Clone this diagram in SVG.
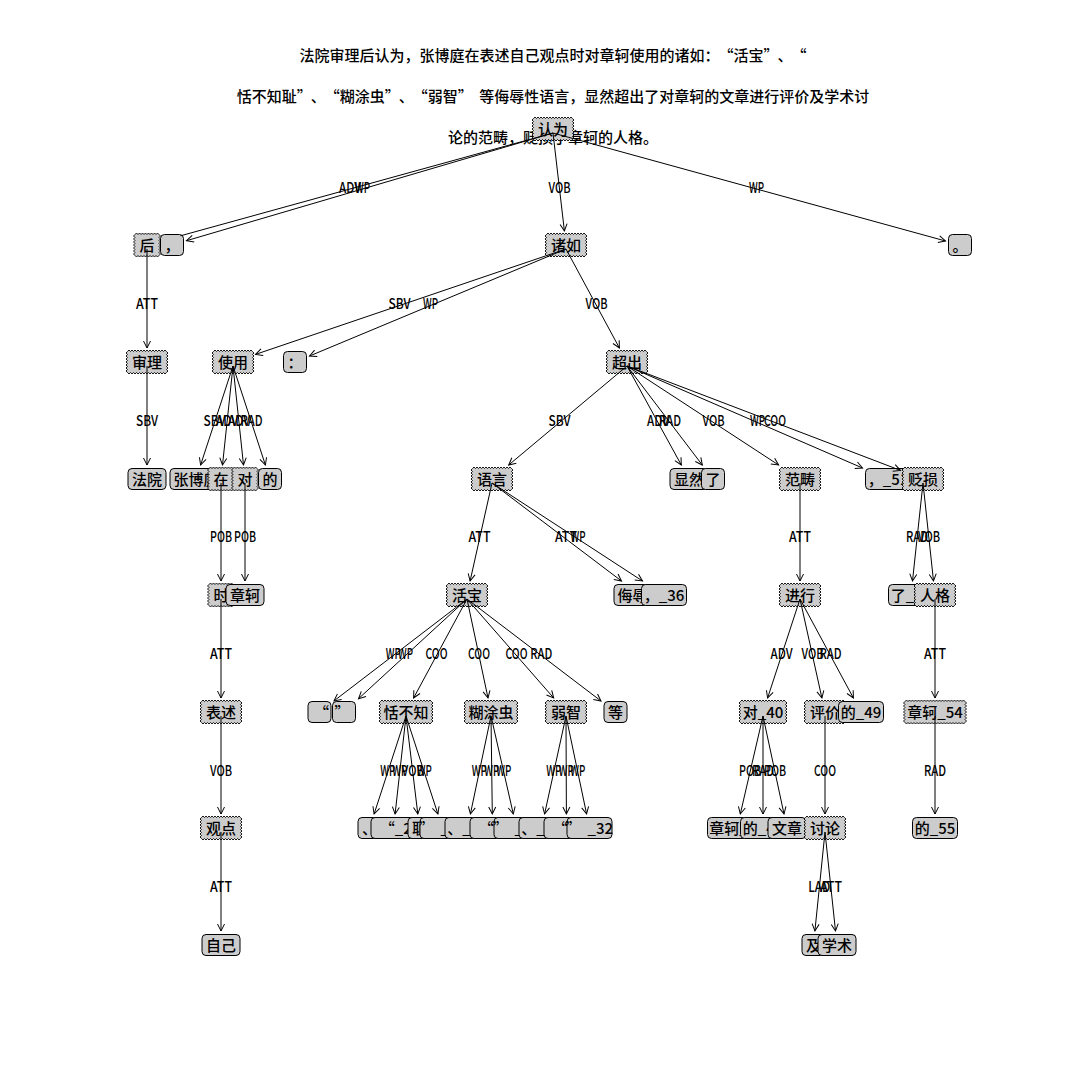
<svg xmlns="http://www.w3.org/2000/svg" width="1080" height="1080" viewBox="0 0 1080 1080">
<style>
  text { font-family: "Noto Sans CJK SC", "Noto Sans", sans-serif; font-size: 15px; fill: #000; font-weight: 500; }
  .t { text-anchor: middle; }
  .n { text-anchor: middle; }
  .e { text-anchor: middle; }
  .box { fill: #cccccc; stroke: #000; stroke-width: 1; }
  .saw { fill: #cccccc; stroke: #000; stroke-width: 0.9; stroke-linejoin: miter; }
  #edges line { stroke: #000; stroke-width: 1; fill: none; }
  #edges line.a { marker-end: url(#ah); }
</style>
<defs>
  <marker id="ah" markerUnits="userSpaceOnUse" markerWidth="12" markerHeight="12" viewBox="-10 -6 12 12" refX="0" refY="0" orient="auto" overflow="visible">
    <path d="M-7,-3.5 L0,0 L-7,3.5" fill="none" stroke="#000" stroke-width="1"/>
  </marker>
  <!-- sawtooth boxes, centred on the origin, 21px tall; one "l" run per side -->
  <path id="z1" class="saw" d="M-12,-10.5
    l1.5-1.5 1.5 1.5 1.5-1.5 1.5 1.5 1.5-1.5 1.5 1.5 1.5-1.5 1.5 1.5 1.5-1.5 1.5 1.5 1.5-1.5 1.5 1.5 1.5-1.5 1.5 1.5 1.5-1.5 1.5 1.5
    l1.5 1.5-1.5 1.5 1.5 1.5-1.5 1.5 1.5 1.5-1.5 1.5 1.5 1.5-1.5 1.5 1.5 1.5-1.5 1.5 1.5 1.5-1.5 1.5 1.5 1.5-1.5 1.5
    l-1.5 1.5-1.5-1.5 -1.5 1.5-1.5-1.5 -1.5 1.5-1.5-1.5 -1.5 1.5-1.5-1.5 -1.5 1.5-1.5-1.5 -1.5 1.5-1.5-1.5 -1.5 1.5-1.5-1.5 -1.5 1.5-1.5-1.5
    l-1.5-1.5 1.5-1.5 -1.5-1.5 1.5-1.5 -1.5-1.5 1.5-1.5 -1.5-1.5 1.5-1.5 -1.5-1.5 1.5-1.5 -1.5-1.5 1.5-1.5 -1.5-1.5 1.5-1.5z"/>
  <path id="z2" class="saw" d="M-19.5,-10.5
    l1.5-1.5 1.5 1.5 1.5-1.5 1.5 1.5 1.5-1.5 1.5 1.5 1.5-1.5 1.5 1.5 1.5-1.5 1.5 1.5
     1.5-1.5 1.5 1.5 1.5-1.5 1.5 1.5 1.5-1.5 1.5 1.5 1.5-1.5 1.5 1.5 1.5-1.5 1.5 1.5
     1.5-1.5 1.5 1.5 1.5-1.5 1.5 1.5 1.5-1.5 1.5 1.5
    l1.5 1.5-1.5 1.5 1.5 1.5-1.5 1.5 1.5 1.5-1.5 1.5 1.5 1.5-1.5 1.5 1.5 1.5-1.5 1.5 1.5 1.5-1.5 1.5 1.5 1.5-1.5 1.5
    l-1.5 1.5-1.5-1.5 -1.5 1.5-1.5-1.5 -1.5 1.5-1.5-1.5 -1.5 1.5-1.5-1.5 -1.5 1.5-1.5-1.5
     -1.5 1.5-1.5-1.5 -1.5 1.5-1.5-1.5 -1.5 1.5-1.5-1.5 -1.5 1.5-1.5-1.5 -1.5 1.5-1.5-1.5
     -1.5 1.5-1.5-1.5 -1.5 1.5-1.5-1.5 -1.5 1.5-1.5-1.5
    l-1.5-1.5 1.5-1.5 -1.5-1.5 1.5-1.5 -1.5-1.5 1.5-1.5 -1.5-1.5 1.5-1.5 -1.5-1.5 1.5-1.5 -1.5-1.5 1.5-1.5 -1.5-1.5 1.5-1.5z"/>
  <path id="z3" class="saw" d="M-25.5,-10.5
    l1.5-1.5 1.5 1.5 1.5-1.5 1.5 1.5 1.5-1.5 1.5 1.5 1.5-1.5 1.5 1.5 1.5-1.5 1.5 1.5
     1.5-1.5 1.5 1.5 1.5-1.5 1.5 1.5 1.5-1.5 1.5 1.5 1.5-1.5 1.5 1.5 1.5-1.5 1.5 1.5
     1.5-1.5 1.5 1.5 1.5-1.5 1.5 1.5 1.5-1.5 1.5 1.5 1.5-1.5 1.5 1.5 1.5-1.5 1.5 1.5
     1.5-1.5 1.5 1.5 1.5-1.5 1.5 1.5
    l1.5 1.5-1.5 1.5 1.5 1.5-1.5 1.5 1.5 1.5-1.5 1.5 1.5 1.5-1.5 1.5 1.5 1.5-1.5 1.5 1.5 1.5-1.5 1.5 1.5 1.5-1.5 1.5
    l-1.5 1.5-1.5-1.5 -1.5 1.5-1.5-1.5 -1.5 1.5-1.5-1.5 -1.5 1.5-1.5-1.5 -1.5 1.5-1.5-1.5
     -1.5 1.5-1.5-1.5 -1.5 1.5-1.5-1.5 -1.5 1.5-1.5-1.5 -1.5 1.5-1.5-1.5 -1.5 1.5-1.5-1.5
     -1.5 1.5-1.5-1.5 -1.5 1.5-1.5-1.5 -1.5 1.5-1.5-1.5 -1.5 1.5-1.5-1.5 -1.5 1.5-1.5-1.5
     -1.5 1.5-1.5-1.5 -1.5 1.5-1.5-1.5
    l-1.5-1.5 1.5-1.5 -1.5-1.5 1.5-1.5 -1.5-1.5 1.5-1.5 -1.5-1.5 1.5-1.5 -1.5-1.5 1.5-1.5 -1.5-1.5 1.5-1.5 -1.5-1.5 1.5-1.5z"/>
  <path id="z4" class="saw" d="M-22.5,-10.5
    l1.5-1.5 1.5 1.5 1.5-1.5 1.5 1.5 1.5-1.5 1.5 1.5 1.5-1.5 1.5 1.5 1.5-1.5 1.5 1.5
     1.5-1.5 1.5 1.5 1.5-1.5 1.5 1.5 1.5-1.5 1.5 1.5 1.5-1.5 1.5 1.5 1.5-1.5 1.5 1.5
     1.5-1.5 1.5 1.5 1.5-1.5 1.5 1.5 1.5-1.5 1.5 1.5 1.5-1.5 1.5 1.5 1.5-1.5 1.5 1.5
    l1.5 1.5-1.5 1.5 1.5 1.5-1.5 1.5 1.5 1.5-1.5 1.5 1.5 1.5-1.5 1.5 1.5 1.5-1.5 1.5 1.5 1.5-1.5 1.5 1.5 1.5-1.5 1.5
    l-1.5 1.5-1.5-1.5 -1.5 1.5-1.5-1.5 -1.5 1.5-1.5-1.5 -1.5 1.5-1.5-1.5 -1.5 1.5-1.5-1.5
     -1.5 1.5-1.5-1.5 -1.5 1.5-1.5-1.5 -1.5 1.5-1.5-1.5 -1.5 1.5-1.5-1.5 -1.5 1.5-1.5-1.5
     -1.5 1.5-1.5-1.5 -1.5 1.5-1.5-1.5 -1.5 1.5-1.5-1.5 -1.5 1.5-1.5-1.5 -1.5 1.5-1.5-1.5
    l-1.5-1.5 1.5-1.5 -1.5-1.5 1.5-1.5 -1.5-1.5 1.5-1.5 -1.5-1.5 1.5-1.5 -1.5-1.5 1.5-1.5 -1.5-1.5 1.5-1.5 -1.5-1.5 1.5-1.5z"/>
  <path id="z6" class="saw" d="M-30,-10.5
    l1.5-1.5 1.5 1.5 1.5-1.5 1.5 1.5 1.5-1.5 1.5 1.5 1.5-1.5 1.5 1.5 1.5-1.5 1.5 1.5
     1.5-1.5 1.5 1.5 1.5-1.5 1.5 1.5 1.5-1.5 1.5 1.5 1.5-1.5 1.5 1.5 1.5-1.5 1.5 1.5
     1.5-1.5 1.5 1.5 1.5-1.5 1.5 1.5 1.5-1.5 1.5 1.5 1.5-1.5 1.5 1.5 1.5-1.5 1.5 1.5
     1.5-1.5 1.5 1.5 1.5-1.5 1.5 1.5 1.5-1.5 1.5 1.5 1.5-1.5 1.5 1.5 1.5-1.5 1.5 1.5
    l1.5 1.5-1.5 1.5 1.5 1.5-1.5 1.5 1.5 1.5-1.5 1.5 1.5 1.5-1.5 1.5 1.5 1.5-1.5 1.5 1.5 1.5-1.5 1.5 1.5 1.5-1.5 1.5
    l-1.5 1.5-1.5-1.5 -1.5 1.5-1.5-1.5 -1.5 1.5-1.5-1.5 -1.5 1.5-1.5-1.5 -1.5 1.5-1.5-1.5
     -1.5 1.5-1.5-1.5 -1.5 1.5-1.5-1.5 -1.5 1.5-1.5-1.5 -1.5 1.5-1.5-1.5 -1.5 1.5-1.5-1.5
     -1.5 1.5-1.5-1.5 -1.5 1.5-1.5-1.5 -1.5 1.5-1.5-1.5 -1.5 1.5-1.5-1.5 -1.5 1.5-1.5-1.5
     -1.5 1.5-1.5-1.5 -1.5 1.5-1.5-1.5 -1.5 1.5-1.5-1.5 -1.5 1.5-1.5-1.5 -1.5 1.5-1.5-1.5
    l-1.5-1.5 1.5-1.5 -1.5-1.5 1.5-1.5 -1.5-1.5 1.5-1.5 -1.5-1.5 1.5-1.5 -1.5-1.5 1.5-1.5 -1.5-1.5 1.5-1.5 -1.5-1.5 1.5-1.5z"/>
  <!-- rounded boxes for leaf words -->
  <rect id="r1" class="box" x="-11.5" y="-10.5" width="23" height="21" rx="4"/>
  <rect id="r2" class="box" x="-19" y="-10.5" width="38" height="21" rx="4"/>
  <rect id="r3" class="box" x="-26" y="-10.5" width="52" height="21" rx="4"/>
  <rect id="r4" class="box" x="-22.5" y="-10.5" width="45" height="21" rx="4"/>
  <rect id="r5" class="box" x="-29.5" y="-10.5" width="59" height="21" rx="4"/>
</defs>

<rect width="1080" height="1080" fill="#fff"/>

<!-- quotes get extra advance (dx) so they take a full CJK cell -->
<g id="title">
  <text class="t" x="553" y="60.5">法院审理后认为，张博庭在表述自己观点时对章轲使用的诸如：<tspan dx="6.5">“</tspan>活宝”<tspan dx="6.5">、</tspan><tspan dx="6.5">“</tspan></text>
  <text class="t" x="553" y="101.5">恬不知耻”<tspan dx="6.5">、</tspan><tspan dx="6.5">“</tspan>糊涂虫”<tspan dx="6.5">、</tspan><tspan dx="6.5">“</tspan>弱智”<tspan dx="6.5">等</tspan>侮辱性语言，显然超出了对章轲的文章进行评价及学术讨</text>
  <text class="t" x="553" y="142.5">论的范畴，贬损了章轲的人格。</text>
</g>

<g id="nodes">
  <g id="n00"><use href="#r2" x="147" y="479"/><text class="n" x="147" y="484.5">法院</text></g>
  <g id="n01"><use href="#z2" x="147" y="362"/><text class="n" x="147" y="367.5">审理</text></g>
  <g id="n02"><use href="#z1" x="147" y="245"/><text class="n" x="147" y="250.5">后</text></g>
  <g id="n03"><use href="#z2" x="553" y="129"/><text class="n" x="553" y="134.5">认为</text></g>
  <g id="n04"><use href="#r1" x="172" y="245"/><text class="n" x="172" y="250.5">，</text></g>
  <g id="n05"><use href="#r3" x="196" y="479"/><text class="n" x="196" y="484.5">张博庭</text></g>
  <g id="n06"><use href="#z1" x="221" y="479"/><text class="n" x="221" y="484.5">在</text></g>
  <g id="n07"><use href="#z2" x="221" y="712"/><text class="n" x="221" y="717.5">表述</text></g>
  <g id="n08"><use href="#r2" x="221" y="945"/><text class="n" x="221" y="950.5">自己</text></g>
  <g id="n09"><use href="#z2" x="221" y="828"/><text class="n" x="221" y="833.5">观点</text></g>
  <g id="n10"><use href="#z1" x="221" y="595"/><text class="n" x="221" y="600.5">时</text></g>
  <g id="n11"><use href="#z1" x="245" y="479"/><text class="n" x="245" y="484.5">对</text></g>
  <g id="n12"><use href="#r2" x="245" y="595"/><text class="n" x="245" y="600.5">章轲</text></g>
  <g id="n13"><use href="#z2" x="233" y="362"/><text class="n" x="233" y="367.5">使用</text></g>
  <g id="n14"><use href="#r1" x="270" y="479"/><text class="n" x="270" y="484.5">的</text></g>
  <g id="n15"><use href="#z2" x="566" y="245"/><text class="n" x="566" y="250.5">诸如</text></g>
  <g id="n16"><use href="#r1" x="295" y="362"/><text class="n" x="295" y="367.5">：</text></g>
  <g id="n17"><use href="#r1" x="319.5" y="712"/><text class="n" x="321.5" y="717.5">“</text></g>
  <g id="n18"><use href="#z2" x="467" y="595"/><text class="n" x="467" y="600.5">活宝</text></g>
  <g id="n19"><use href="#r1" x="344" y="712"/><text class="n" x="342" y="717.5">”</text></g>
  <g id="n20"><use href="#r1" x="369.5" y="828"/><text class="n" x="369.5" y="833.5">、</text></g>
  <g id="n21"><use href="#r4" x="393.5" y="828"/><text class="n" x="393.5" y="833.5"><tspan dx="6.5">“</tspan>_21</text></g>
  <g id="n22"><use href="#z3" x="406" y="712"/><text class="n" x="406" y="717.5">恬不知</text></g>
  <g id="n23"><use href="#r1" x="419.5" y="828"/><text class="n" x="419.5" y="833.5">耻</text></g>
  <g id="n24"><use href="#r4" x="442.5" y="828"/><text class="n" x="442.5" y="833.5">”<tspan dx="6.5">_24</tspan></text></g>
  <g id="n25"><use href="#r4" x="467.5" y="828"/><text class="n" x="467.5" y="833.5">、_25</text></g>
  <g id="n26"><use href="#r4" x="492.5" y="828"/><text class="n" x="492.5" y="833.5"><tspan dx="6.5">“</tspan>_26</text></g>
  <g id="n27"><use href="#z3" x="491" y="712"/><text class="n" x="491" y="717.5">糊涂虫</text></g>
  <g id="n28"><use href="#r4" x="516.5" y="828"/><text class="n" x="516.5" y="833.5">”<tspan dx="6.5">_28</tspan></text></g>
  <g id="n29"><use href="#r4" x="541.5" y="828"/><text class="n" x="541.5" y="833.5">、_29</text></g>
  <g id="n30"><use href="#r4" x="566.5" y="828"/><text class="n" x="566.5" y="833.5"><tspan dx="6.5">“</tspan>_30</text></g>
  <g id="n31"><use href="#z2" x="566" y="712"/><text class="n" x="566" y="717.5">弱智</text></g>
  <g id="n32"><use href="#r4" x="589.5" y="828"/><text class="n" x="589.5" y="833.5">”<tspan dx="6.5">_32</tspan></text></g>
  <g id="n33"><use href="#r1" x="615.5" y="712"/><text class="n" x="615.5" y="717.5">等</text></g>
  <g id="n34"><use href="#r3" x="640" y="595"/><text class="n" x="640" y="600.5">侮辱性</text></g>
  <g id="n35"><use href="#z2" x="492" y="479"/><text class="n" x="492" y="484.5">语言</text></g>
  <g id="n36"><use href="#r4" x="664" y="595"/><text class="n" x="664" y="600.5">，_36</text></g>
  <g id="n37"><use href="#r2" x="689" y="479"/><text class="n" x="689" y="484.5">显然</text></g>
  <g id="n38"><use href="#z2" x="627" y="362"/><text class="n" x="627" y="367.5">超出</text></g>
  <g id="n39"><use href="#r1" x="713" y="479"/><text class="n" x="713" y="484.5">了</text></g>
  <g id="n40"><use href="#z4" x="763" y="712"/><text class="n" x="763" y="717.5">对_40</text></g>
  <g id="n41"><use href="#r5" x="737" y="828"/><text class="n" x="737" y="833.5">章轲_41</text></g>
  <g id="n42"><use href="#r4" x="763" y="828"/><text class="n" x="763" y="833.5">的_42</text></g>
  <g id="n43"><use href="#r2" x="787" y="828"/><text class="n" x="787" y="833.5">文章</text></g>
  <g id="n44"><use href="#z2" x="800" y="595"/><text class="n" x="800" y="600.5">进行</text></g>
  <g id="n45"><use href="#z2" x="825" y="712"/><text class="n" x="825" y="717.5">评价</text></g>
  <g id="n46"><use href="#r1" x="813.5" y="945"/><text class="n" x="813.5" y="950.5">及</text></g>
  <g id="n47"><use href="#r2" x="837" y="945"/><text class="n" x="837" y="950.5">学术</text></g>
  <g id="n48"><use href="#z2" x="825" y="828"/><text class="n" x="825" y="833.5">讨论</text></g>
  <g id="n49"><use href="#r4" x="861" y="712"/><text class="n" x="861" y="717.5">的_49</text></g>
  <g id="n50"><use href="#z2" x="800" y="479"/><text class="n" x="800" y="484.5">范畴</text></g>
  <g id="n51"><use href="#r4" x="888" y="479"/><text class="n" x="888" y="484.5">，_51</text></g>
  <g id="n52"><use href="#z2" x="923" y="479"/><text class="n" x="923" y="484.5">贬损</text></g>
  <g id="n53"><use href="#r4" x="911" y="595"/><text class="n" x="911" y="600.5">了_53</text></g>
  <g id="n54"><use href="#z6" x="935" y="712"/><text class="n" x="935" y="717.5">章轲_54</text></g>
  <g id="n55"><use href="#r4" x="935" y="828"/><text class="n" x="935" y="833.5">的_55</text></g>
  <g id="n56"><use href="#z2" x="935" y="595"/><text class="n" x="935" y="600.5">人格</text></g>
  <g id="n57"><use href="#r1" x="960" y="245"/><text class="n" x="960" y="250.5">。</text></g>
</g>

<g id="edges">
  <!-- head -> dependent arcs; the arc into 后 disappears under the comma box -->
  <line x1="553" y1="133" x2="180.5" y2="235.8"/>
  <line class="a" x1="553" y1="133" x2="186.5" y2="240.7"/>
  <line class="a" x1="553" y1="133" x2="564.4" y2="231"/>
  <line class="a" x1="553" y1="133" x2="945.5" y2="241"/>
  <line class="a" x1="147" y1="249" x2="147" y2="348"/>
  <line class="a" x1="147" y1="366" x2="147" y2="465"/>
  <line class="a" x1="566" y1="249" x2="255.5" y2="354.4"/>
  <line class="a" x1="566" y1="249" x2="309.5" y2="356"/>
  <line class="a" x1="566" y1="249" x2="619.4" y2="348"/>
  <line class="a" x1="233" y1="366" x2="200.6" y2="465"/>
  <line class="a" x1="233" y1="366" x2="222.5" y2="465"/>
  <line class="a" x1="233" y1="366" x2="243.5" y2="465"/>
  <line class="a" x1="233" y1="366" x2="265.4" y2="465"/>
  <line class="a" x1="221" y1="483" x2="221" y2="581"/>
  <line class="a" x1="245" y1="483" x2="245" y2="581"/>
  <line class="a" x1="221" y1="599" x2="221" y2="698"/>
  <line class="a" x1="221" y1="716" x2="221" y2="814"/>
  <line class="a" x1="221" y1="832" x2="221" y2="931"/>
  <line class="a" x1="627" y1="366" x2="508.7" y2="465"/>
  <line class="a" x1="627" y1="366" x2="681.3" y2="465"/>
  <line class="a" x1="627" y1="366" x2="702.3" y2="465"/>
  <line class="a" x1="627" y1="366" x2="778.6" y2="465"/>
  <line class="a" x1="627" y1="366" x2="862.5" y2="468"/>
  <line class="a" x1="627" y1="366" x2="900.5" y2="470.4"/>
  <line class="a" x1="492" y1="483" x2="470.1" y2="581"/>
  <line class="a" x1="492" y1="483" x2="621.5" y2="581"/>
  <line class="a" x1="492" y1="483" x2="642.5" y2="581"/>
  <line class="a" x1="467" y1="599" x2="334" y2="700.9"/>
  <line class="a" x1="467" y1="599" x2="358.5" y2="698.7"/>
  <line class="a" x1="467" y1="599" x2="413.6" y2="698"/>
  <line class="a" x1="467" y1="599" x2="488" y2="698"/>
  <line class="a" x1="467" y1="599" x2="553.7" y2="698"/>
  <line class="a" x1="467" y1="599" x2="601" y2="701"/>
  <line class="a" x1="406" y1="716" x2="374.1" y2="814"/>
  <line class="a" x1="406" y1="716" x2="395.1" y2="814"/>
  <line class="a" x1="406" y1="716" x2="417.8" y2="814"/>
  <line class="a" x1="406" y1="716" x2="437.9" y2="814"/>
  <line class="a" x1="491" y1="716" x2="470.4" y2="814"/>
  <line class="a" x1="491" y1="716" x2="492.3" y2="814"/>
  <line class="a" x1="491" y1="716" x2="513.3" y2="814"/>
  <line class="a" x1="566" y1="716" x2="544.6" y2="814"/>
  <line class="a" x1="566" y1="716" x2="566.4" y2="814"/>
  <line class="a" x1="566" y1="716" x2="586.6" y2="814"/>
  <line class="a" x1="800" y1="483" x2="800" y2="581"/>
  <line class="a" x1="800" y1="599" x2="767.6" y2="698"/>
  <line class="a" x1="800" y1="599" x2="821.9" y2="698"/>
  <line class="a" x1="800" y1="599" x2="853.4" y2="698"/>
  <line class="a" x1="763" y1="716" x2="740.3" y2="814"/>
  <line class="a" x1="763" y1="716" x2="763" y2="814"/>
  <line class="a" x1="763" y1="716" x2="784" y2="814"/>
  <line class="a" x1="825" y1="716" x2="825" y2="814"/>
  <line class="a" x1="825" y1="832" x2="814.9" y2="931"/>
  <line class="a" x1="825" y1="832" x2="835.5" y2="931"/>
  <line class="a" x1="923" y1="483" x2="912.5" y2="581"/>
  <line class="a" x1="923" y1="483" x2="933.5" y2="581"/>
  <line class="a" x1="935" y1="599" x2="935" y2="698"/>
  <line class="a" x1="935" y1="716" x2="935" y2="814"/>

  <!-- relation labels at arc midpoints -->
  <g id="edge-labels">
    <text class="e" x="350" y="192.5" textLength="22" lengthAdjust="spacingAndGlyphs">ADV</text>
    <text class="e" x="362.5" y="192.5" textLength="15" lengthAdjust="spacingAndGlyphs">WP</text>
    <text class="e" x="559.5" y="192.5" textLength="22" lengthAdjust="spacingAndGlyphs">VOB</text>
    <text class="e" x="756.5" y="192.5" textLength="15" lengthAdjust="spacingAndGlyphs">WP</text>
    <text class="e" x="147" y="308.5" textLength="22" lengthAdjust="spacingAndGlyphs">ATT</text>
    <text class="e" x="399.5" y="308.5" textLength="22" lengthAdjust="spacingAndGlyphs">SBV</text>
    <text class="e" x="430.5" y="308.5" textLength="15" lengthAdjust="spacingAndGlyphs">WP</text>
    <text class="e" x="596.5" y="308.5" textLength="22" lengthAdjust="spacingAndGlyphs">VOB</text>
    <text class="e" x="147" y="425.5" textLength="22" lengthAdjust="spacingAndGlyphs">SBV</text>
    <text class="e" x="214.5" y="425.5" textLength="22" lengthAdjust="spacingAndGlyphs">SBV</text>
    <text class="e" x="227" y="425.5" textLength="22" lengthAdjust="spacingAndGlyphs">ADV</text>
    <text class="e" x="239" y="425.5" textLength="22" lengthAdjust="spacingAndGlyphs">ADV</text>
    <text class="e" x="251.5" y="425.5" textLength="22" lengthAdjust="spacingAndGlyphs">RAD</text>
    <text class="e" x="559.5" y="425.5" textLength="22" lengthAdjust="spacingAndGlyphs">SBV</text>
    <text class="e" x="658" y="425.5" textLength="22" lengthAdjust="spacingAndGlyphs">ADV</text>
    <text class="e" x="670" y="425.5" textLength="22" lengthAdjust="spacingAndGlyphs">RAD</text>
    <text class="e" x="713.5" y="425.5" textLength="22" lengthAdjust="spacingAndGlyphs">VOB</text>
    <text class="e" x="757.5" y="425.5" textLength="15" lengthAdjust="spacingAndGlyphs">WP</text>
    <text class="e" x="775" y="425.5" textLength="22" lengthAdjust="spacingAndGlyphs">COO</text>
    <text class="e" x="221" y="541.5" textLength="22" lengthAdjust="spacingAndGlyphs">POB</text>
    <text class="e" x="245" y="541.5" textLength="22" lengthAdjust="spacingAndGlyphs">POB</text>
    <text class="e" x="479.5" y="541.5" textLength="22" lengthAdjust="spacingAndGlyphs">ATT</text>
    <text class="e" x="566" y="541.5" textLength="22" lengthAdjust="spacingAndGlyphs">ATT</text>
    <text class="e" x="578" y="541.5" textLength="15" lengthAdjust="spacingAndGlyphs">WP</text>
    <text class="e" x="800" y="541.5" textLength="22" lengthAdjust="spacingAndGlyphs">ATT</text>
    <text class="e" x="917" y="541.5" textLength="22" lengthAdjust="spacingAndGlyphs">RAD</text>
    <text class="e" x="929" y="541.5" textLength="22" lengthAdjust="spacingAndGlyphs">VOB</text>
    <text class="e" x="221" y="658.5" textLength="22" lengthAdjust="spacingAndGlyphs">ATT</text>
    <text class="e" x="393.3" y="658.5" textLength="15" lengthAdjust="spacingAndGlyphs">WP</text>
    <text class="e" x="405.5" y="658.5" textLength="15" lengthAdjust="spacingAndGlyphs">WP</text>
    <text class="e" x="436.5" y="658.5" textLength="22" lengthAdjust="spacingAndGlyphs">COO</text>
    <text class="e" x="479" y="658.5" textLength="22" lengthAdjust="spacingAndGlyphs">COO</text>
    <text class="e" x="516.5" y="658.5" textLength="22" lengthAdjust="spacingAndGlyphs">COO</text>
    <text class="e" x="541.3" y="658.5" textLength="22" lengthAdjust="spacingAndGlyphs">RAD</text>
    <text class="e" x="781.5" y="658.5" textLength="22" lengthAdjust="spacingAndGlyphs">ADV</text>
    <text class="e" x="812.5" y="658.5" textLength="22" lengthAdjust="spacingAndGlyphs">VOB</text>
    <text class="e" x="830.5" y="658.5" textLength="22" lengthAdjust="spacingAndGlyphs">RAD</text>
    <text class="e" x="935" y="658.5" textLength="22" lengthAdjust="spacingAndGlyphs">ATT</text>
    <text class="e" x="221" y="775.5" textLength="22" lengthAdjust="spacingAndGlyphs">VOB</text>
    <text class="e" x="387.8" y="775.5" textLength="15" lengthAdjust="spacingAndGlyphs">WP</text>
    <text class="e" x="399.8" y="775.5" textLength="15" lengthAdjust="spacingAndGlyphs">WP</text>
    <text class="e" x="412.8" y="775.5" textLength="22" lengthAdjust="spacingAndGlyphs">VOB</text>
    <text class="e" x="424.3" y="775.5" textLength="15" lengthAdjust="spacingAndGlyphs">WP</text>
    <text class="e" x="479.3" y="775.5" textLength="15" lengthAdjust="spacingAndGlyphs">WP</text>
    <text class="e" x="491.8" y="775.5" textLength="15" lengthAdjust="spacingAndGlyphs">WP</text>
    <text class="e" x="503.8" y="775.5" textLength="15" lengthAdjust="spacingAndGlyphs">WP</text>
    <text class="e" x="553.8" y="775.5" textLength="15" lengthAdjust="spacingAndGlyphs">WP</text>
    <text class="e" x="566.3" y="775.5" textLength="15" lengthAdjust="spacingAndGlyphs">WP</text>
    <text class="e" x="577.8" y="775.5" textLength="15" lengthAdjust="spacingAndGlyphs">WP</text>
    <text class="e" x="750" y="775.5" textLength="22" lengthAdjust="spacingAndGlyphs">POB</text>
    <text class="e" x="763" y="775.5" textLength="22" lengthAdjust="spacingAndGlyphs">RAD</text>
    <text class="e" x="775" y="775.5" textLength="22" lengthAdjust="spacingAndGlyphs">POB</text>
    <text class="e" x="825" y="775.5" textLength="22" lengthAdjust="spacingAndGlyphs">COO</text>
    <text class="e" x="935" y="775.5" textLength="22" lengthAdjust="spacingAndGlyphs">RAD</text>
    <text class="e" x="221" y="891.5" textLength="22" lengthAdjust="spacingAndGlyphs">ATT</text>
    <text class="e" x="819.3" y="891.5" textLength="22" lengthAdjust="spacingAndGlyphs">LAD</text>
    <text class="e" x="831" y="891.5" textLength="22" lengthAdjust="spacingAndGlyphs">ATT</text>
  </g>
</g>
</svg>
